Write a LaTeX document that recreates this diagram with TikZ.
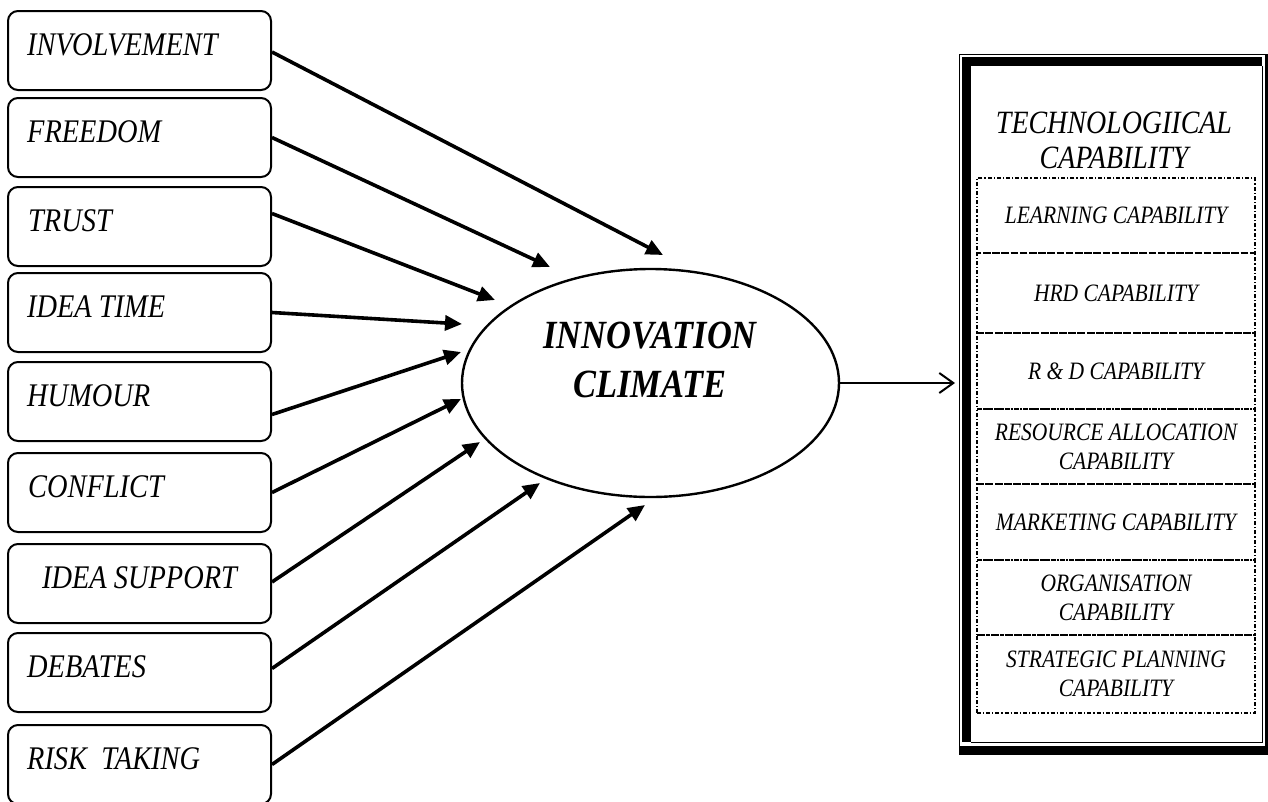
\documentclass[tikz,border=0pt]{standalone}
\usepackage{fontspec}
\setmainfont{Liberation Serif}[FakeStretch=0.86]
\usetikzlibrary{shapes.geometric,arrows.meta}
\begin{document}
\begin{tikzpicture}[x=1pt,y=-1pt,
  lbox/.style={draw, line width=2pt, rounded corners=10pt, minimum width=263pt, minimum height=79pt, inner sep=0pt},
  ltxt/.style={anchor=base west, inner sep=0pt, font=\fontsize{33}{33}\selectfont\itshape},
  arr/.style={line width=3.6pt, -{Triangle[length=17pt,width=15pt]}},
  dbox/.style={draw, line width=1.2pt, dash pattern=on 4pt off 2pt on 1.2pt off 2pt, minimum width=278pt, inner sep=0pt, align=center, font=\fontsize{25}{29}\selectfont\itshape},
  band/.style={fill=black}
]
\useasboundingbox (0,0) rectangle (1268,801);

% left boxes
\node[lbox] (b1) at (139.5,50.5) {};
\node[lbox] (b2) at (139.5,137.5) {};
\node[lbox] (b3) at (139.5,226.5) {};
\node[lbox] (b4) at (139.5,312.5) {};
\node[lbox] (b5) at (139.5,401.5) {};
\node[lbox] (b6) at (139.5,492.5) {};
\node[lbox] (b7) at (139.5,583.5) {};
\node[lbox] (b8) at (139.5,672.5) {};
\node[lbox] (b9) at (139.5,764.5) {};

\node[ltxt] (t1) at (27,55) {INVOLVEMENT};
\node[ltxt] (t2) at (27,142) {FREEDOM};
\node[ltxt] (t3) at (28,231) {TRUST};
\node[ltxt] (t4) at (27,317) {IDEA TIME};
\node[ltxt] (t5) at (27,406) {HUMOUR};
\node[ltxt] (t6) at (28,497) {CONFLICT};
\node[ltxt] (t7) at (42,588) {IDEA SUPPORT};
\node[ltxt] (t8) at (27,677) {DEBATES};
\node[ltxt] (t9) at (27,769) {RISK\ \ TAKING};

% ellipse
\node[draw, ellipse, line width=2.4pt, minimum width=377pt, minimum height=228pt, inner sep=0pt] (ell) at (650.5,383) {};
\node[align=center, inner sep=0pt, font=\fontsize{40}{49}\selectfont\bfseries\itshape] (ic) at (650,360) {INNOVATION\\CLIMATE};

% arrow end points
\coordinate (e1) at (663,255);
\coordinate (e2) at (550,267);
\coordinate (e3) at (495,300);
\coordinate (e4) at (462,324);
\coordinate (e5) at (461,352);
\coordinate (e6) at (461,399);
\coordinate (e7) at (480,442);
\coordinate (e8) at (540,483);
\coordinate (e9) at (645,505);

\draw[arr] ([yshift=-1.5pt]b1.east) -- (e1);
\draw[arr] (b2.east) -- (e2);
\draw[arr] ([yshift=13pt]b3.east) -- (e3);
\draw[arr] (b4.east) -- (e4);
\draw[arr] ([yshift=-13pt]b5.east) -- (e5);
\draw[arr] (b6.east) -- (e6);
\draw[arr] ([yshift=1.5pt]b7.east) -- (e7);
\draw[arr] ([yshift=4pt]b8.east) -- (e8);
\draw[arr] (b9.east) -- (e9);

% right frame
\draw[line width=1.2pt] (1275,54.5) -- (959.5,54.5) -- (959.5,755);
\fill[band] (962,57) rectangle (1262,66);
\fill[band] (962,57) rectangle (971,742);
\draw[line width=1.2pt] (971,742.5) -- (1262.5,742.5) -- (1262.5,66);
\fill[band] (959,746) rectangle (1275,755);
\fill[band] (1265,54) rectangle (1275,755);

\coordinate (fl) at (955,383);
\draw[line width=2pt, -{Straight Barb[length=14pt,width=20pt]}] (ell.east) -- (fl);

% title
\node[align=center, inner sep=0pt, font=\fontsize{32.5}{35}\selectfont\itshape] (tc) at (1114,140) {TECHNOLOGIICAL\\CAPABILITY};

% capability boxes
\node[dbox, minimum height=75pt] (r1) at (1116,215.5) {LEARNING CAPABILITY};
\node[dbox, minimum height=80pt] (r2) at (1116,293) {HRD CAPABILITY};
\node[dbox, minimum height=76pt] (r3) at (1116,371) {R \& D CAPABILITY};
\node[dbox, minimum height=75pt] (r4) at (1116,446.5) {RESOURCE ALLOCATION\\CAPABILITY};
\node[dbox, minimum height=76pt] (r5) at (1116,522) {MARKETING CAPABILITY};
\node[dbox, minimum height=75pt] (r6) at (1116,597.5) {ORGANISATION\\CAPABILITY};
\node[dbox, minimum height=78pt] (r7) at (1116,674) {STRATEGIC PLANNING\\CAPABILITY};
\end{tikzpicture}
\end{document}
